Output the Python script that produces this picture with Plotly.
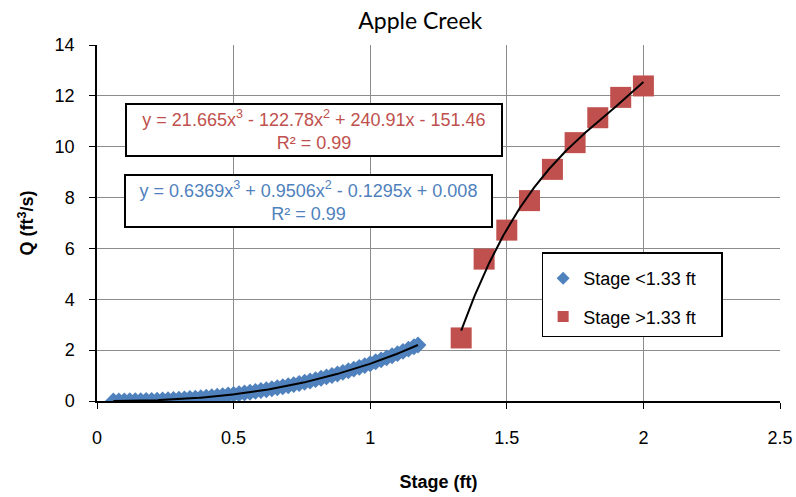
import numpy as np
import plotly.graph_objects as go

# ---- data ----
stage_low = [0.06, 0.08, 0.10, 0.12, 0.14, 0.16, 0.18, 0.20, 0.22, 0.24, 0.26, 0.28,
             0.30, 0.32, 0.34, 0.36, 0.38, 0.40, 0.42, 0.44, 0.46, 0.48, 0.50, 0.52,
             0.54, 0.56, 0.58, 0.60, 0.62, 0.64, 0.66, 0.68, 0.70, 0.72, 0.74, 0.76,
             0.78, 0.80, 0.82, 0.84, 0.86, 0.88, 0.90, 0.92, 0.94, 0.96, 0.98, 1.00,
             1.02, 1.04, 1.06, 1.08, 1.10, 1.12, 1.14, 1.16, 1.175]
q_low = [0.004, 0.004, 0.005, 0.007, 0.010, 0.014, 0.019, 0.025, 0.032, 0.040, 0.050, 0.060,
         0.072, 0.085, 0.099, 0.114, 0.131, 0.149, 0.168, 0.189, 0.212, 0.235, 0.261, 0.287,
         0.316, 0.345, 0.377, 0.410, 0.445, 0.481, 0.520, 0.560, 0.602, 0.645, 0.691, 0.738,
         0.788, 0.839, 0.892, 0.947, 1.005, 1.064, 1.126, 1.189, 1.255, 1.323, 1.393, 1.466,
         1.541, 1.618, 1.697, 1.779, 1.863, 1.950, 2.039, 2.131, 2.20]

stage_high = [1.333, 1.417, 1.500, 1.583, 1.667, 1.750, 1.833, 1.917, 2.000]
q_high = [2.48, 5.58, 6.72, 7.88, 9.11, 10.16, 11.14, 11.94, 12.39]

series_names = ["Stage <1.33 ft", "Stage >1.33 ft"]

eq_low = "y = 0.6369x<sup>3</sup> + 0.9506x<sup>2</sup> - 0.1295x + 0.008<br>R² = 0.99"
eq_high = "y = 21.665x<sup>3</sup> - 122.78x<sup>2</sup> + 240.91x - 151.46<br>R² = 0.99"

x_ticks = [0, 0.5, 1, 1.5, 2, 2.5]
x_ticklabels = ["0", "0.5", "1", "1.5", "2", "2.5"]
y_ticks = [0, 2, 4, 6, 8, 10, 12, 14]

BLUE = "#4F81BD"
RED = "#C0504D"
FONT = "Liberation Sans, Arial, sans-serif"
PAD = "\u00a0" * 4  # right padding inside the legend box

# trend lines (cubic fits of the data)
c_low = np.polyfit(stage_low, q_low, 3)
xl = np.linspace(min(stage_low), max(stage_low), 200)
c_high = np.polyfit(stage_high, q_high, 3)
xh = np.linspace(min(stage_high), max(stage_high), 200)

fig = go.Figure()
fig.add_trace(go.Scatter(x=stage_low, y=q_low, mode="markers",
                         marker=dict(symbol="diamond", size=13, color=BLUE),
                         showlegend=False, hoverinfo="skip"))
fig.add_trace(go.Scatter(x=stage_high, y=q_high, mode="markers",
                         marker=dict(symbol="square", size=21, color=RED),
                         showlegend=False, hoverinfo="skip"))
fig.add_trace(go.Scatter(x=xl, y=np.polyval(c_low, xl), mode="lines",
                         line=dict(color="black", width=2), showlegend=False))
fig.add_trace(go.Scatter(x=xh, y=np.polyval(c_high, xh), mode="lines",
                         line=dict(color="black", width=2), showlegend=False))
# legend entries
fig.add_trace(go.Scatter(x=[None], y=[None], mode="markers", name=series_names[0] + PAD,
                         marker=dict(symbol="diamond", size=10, color=BLUE),
                         legendgroup="a"))
fig.add_trace(go.Scatter(x=[None], y=[None], mode="markers", name=series_names[1] + PAD,
                         marker=dict(symbol="square", size=11, color=RED),
                         legendgroup="b"))

fig.add_annotation(xref="paper", yref="paper", x=0.3184, y=0.7612,
                   xanchor="center", yanchor="middle", text=eq_high, showarrow=False,
                   font=dict(family=FONT, size=18, color=RED),
                   bgcolor="white", bordercolor="black", borderwidth=2,
                   width=372, height=48, borderpad=1, align="center")
fig.add_annotation(xref="paper", yref="paper", x=0.3097, y=0.5604,
                   xanchor="center", yanchor="middle", text=eq_low, showarrow=False,
                   font=dict(family=FONT, size=18, color=BLUE),
                   bgcolor="white", bordercolor="black", borderwidth=2,
                   width=363, height=48, borderpad=1, align="center")

fig.update_layout(
    width=796, height=497,
    margin=dict(l=97, r=16, t=45, b=96, autoexpand=False),
    paper_bgcolor="white", plot_bgcolor="white",
    font=dict(family=FONT, size=18, color="black"),
    title=dict(text="Apple Creek", x=0.528, xref="container", y=0.958,
               yref="container", xanchor="center", yanchor="middle",
               font=dict(family="Lato, Open Sans, sans-serif", size=23, color="black")),
    legend=dict(x=0.651, y=0.4185, xanchor="left", yanchor="top",
                bgcolor="white", bordercolor="black", borderwidth=1.5,
                font=dict(family=FONT, size=18), tracegroupgap=12,
                itemsizing="trace",
                title=dict(text=" ", font=dict(size=5))),
    xaxis=dict(range=[0, 2.5], tickvals=x_ticks, ticktext=x_ticklabels,
               showgrid=True, gridcolor="#8C8C8C", gridwidth=1,
               showline=True, linecolor="black", linewidth=1.5,
               ticks="outside", ticklen=6, tickcolor="black", zeroline=False,
               ticklabelstandoff=14, automargin=False,
               title=dict(text="<b>Stage (ft)</b>", standoff=28,
                          font=dict(family=FONT, size=18))),
    yaxis=dict(range=[0, 14], tickvals=y_ticks,
               showgrid=True, gridcolor="#8C8C8C", gridwidth=1,
               showline=True, linecolor="black", linewidth=1.5,
               ticks="outside", ticklen=6, tickcolor="black", zeroline=False,
               ticklabelstandoff=11, automargin=False,
               title=dict(text="<b>Q (ft<sup>3</sup>/s)</b>", standoff=16,
                          font=dict(family=FONT, size=18))),
)

fig.write_html("out.html")
